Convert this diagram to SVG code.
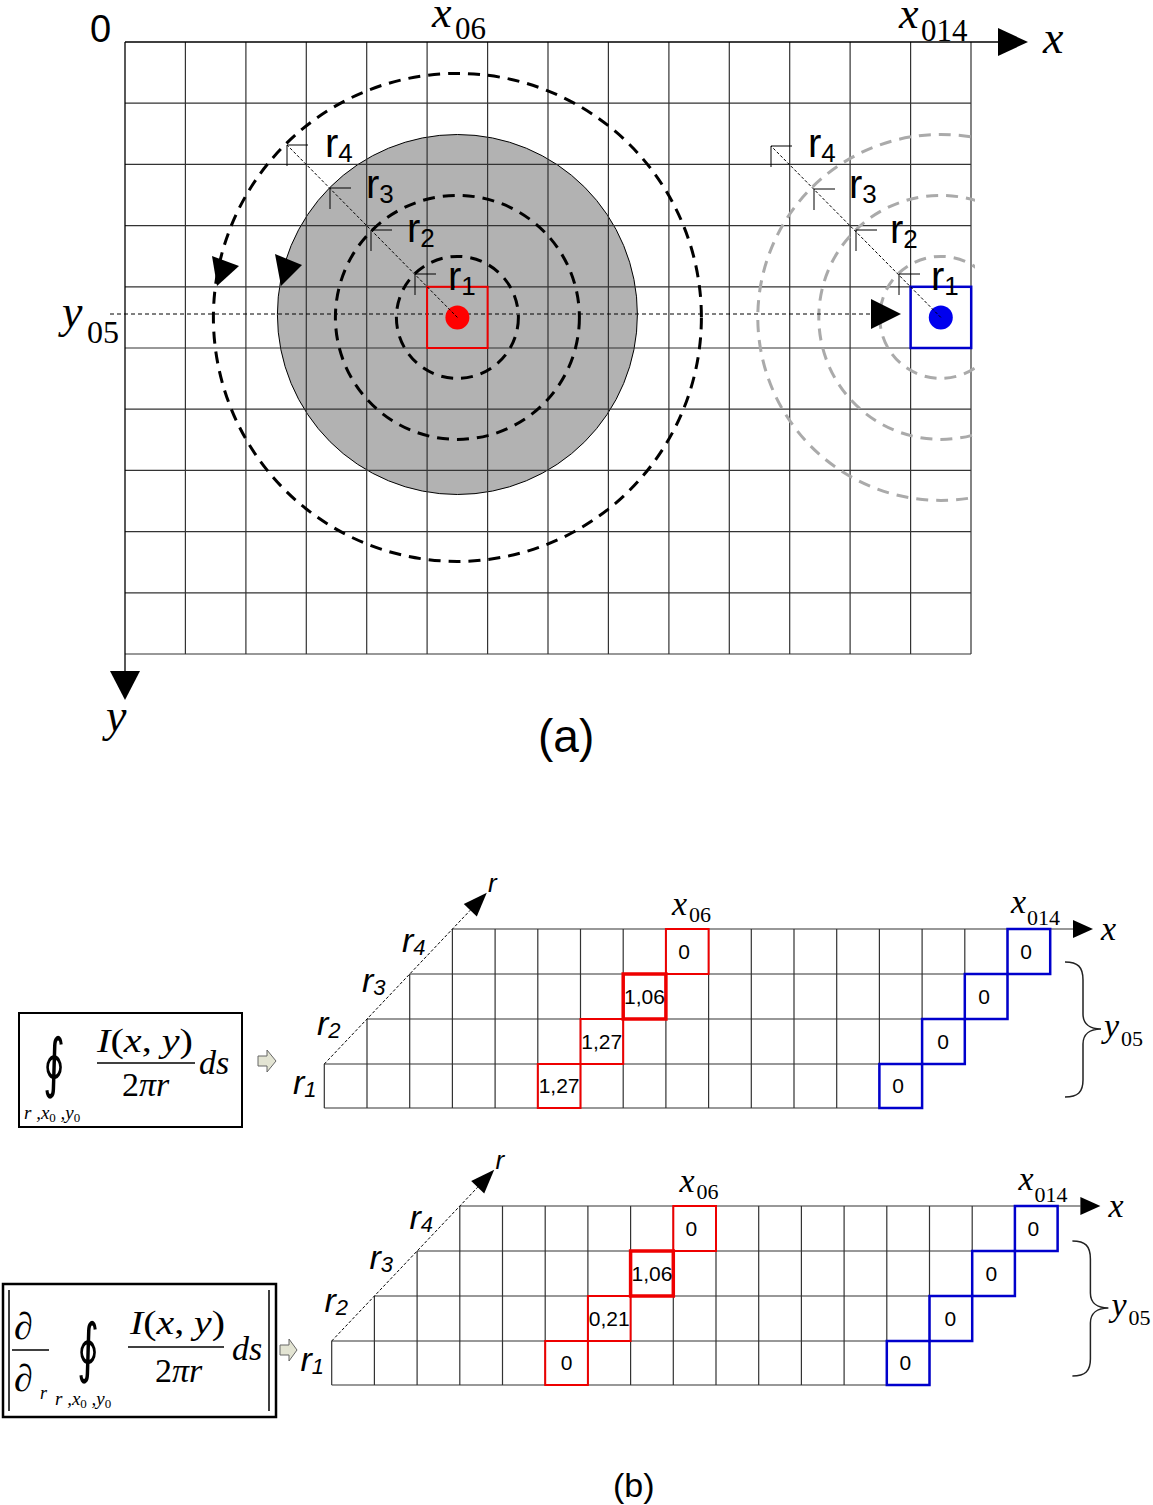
<svg xmlns="http://www.w3.org/2000/svg" width="1153" height="1505" viewBox="0 0 1153 1505">
<style>
.g{stroke:#333;stroke-width:1.2;fill:none}
.ax{stroke:#000;stroke-width:1.3;fill:none}
.dk{stroke:#000;stroke-width:3;stroke-dasharray:12 8;fill:none}
.gr{stroke:#aaa;stroke-width:3;stroke-dasharray:12 8;fill:none}
.dot{stroke:#000;stroke-width:1;stroke-dasharray:3 2;fill:none}
.mk{stroke:#000;stroke-width:1;fill:none}
.sans{font-family:"Liberation Sans",Arial,sans-serif}
.serif{font-family:"Liberation Serif","Times New Roman",serif}
.it{font-style:italic}
.red{stroke:#e00;stroke-width:2;fill:none}
.redt{stroke:#e00;stroke-width:3.5;fill:none}
.blue{stroke:#00c;stroke-width:2.5;fill:none}
.val{font-family:"Liberation Sans",Arial,sans-serif;font-size:21px;text-anchor:middle}
.brace{stroke:#222;stroke-width:1.5;fill:none}
.frame{stroke:#000;stroke-width:2;fill:none}
.barr{fill:#e3e4d3;stroke:#666;stroke-width:1}
.oint{font-family:"DejaVu Serif",serif;font-size:50px}
</style>
<defs>
<clipPath id="clipR"><rect x="600" y="0" width="375" height="700"/></clipPath>
</defs>
<rect width="1153" height="1505" fill="#fff"/>

<!-- ===== Part (a) ===== -->
<g id="a-circle-gray">
<circle cx="457.4" cy="314.5" r="180" fill="#b2b2b2" stroke="#000" stroke-width="1"/>
</g>
<g id="a-grid">
<path class="g" d="M185.4,42V654 M245.9,42V654 M306.3,42V654 M366.7,42V654 M427.1,42V654 M487.6,42V654 M548,42V654 M608.4,42V654 M668.9,42V654 M729.3,42V654 M789.7,42V654 M850.1,42V654 M910.6,42V654 M971,42V654 M125,103.2H971 M125,164.4H971 M125,225.6H971 M125,286.8H971 M125,348H971 M125,409.2H971 M125,470.4H971 M125,531.6H971 M125,592.8H971 M125,654H971"/>
</g>
<g id="a-axes">
<path class="ax" d="M125,42H1000 M125,42V672"/>
<polygon points="998,28 1028,42 998,56" fill="#000"/>
<polygon points="110,671 140,671 125,700" fill="#000"/>
<text class="sans" x="90" y="42" font-size="38">0</text>
<text class="serif" font-size="44"><tspan class="it" x="432" y="27">x</tspan><tspan x="455" y="39" font-size="31">06</tspan></text>
<text class="serif" font-size="44"><tspan class="it" x="899" y="28">x</tspan><tspan x="921" y="41" font-size="31">014</tspan></text>
<text class="serif it" x="1043" y="53" font-size="46">x</text>
<text class="serif" font-size="46"><tspan class="it" x="62" y="327">y</tspan><tspan x="87" y="343" font-size="32">05</tspan></text>
<text class="serif it" x="106" y="731" font-size="46">y</text>
<text class="sans" x="538" y="752" font-size="46">(a)</text>
</g>
<g id="a-circles-red">
<circle class="dk" cx="457.4" cy="317.4" r="61"/>
<circle class="dk" cx="457.4" cy="317.4" r="122"/>
<circle class="dk" cx="457.4" cy="317.4" r="244"/>
<polygon points="212,256 239,266 217,286" fill="#000"/>
<polygon points="275,254 302,265 281,286" fill="#000"/>
</g>
<g id="a-circles-blue" clip-path="url(#clipR)">
<circle class="gr" cx="940.8" cy="317.4" r="61"/>
<circle class="gr" cx="940.8" cy="317.4" r="122"/>
<circle class="gr" cx="940.8" cy="317.4" r="183"/>
</g>
<g id="a-scanline">
<path d="M110,314H872" stroke="#000" stroke-width="1" stroke-dasharray="4 3" fill="none"/>
<polygon points="871,299 901,314 871,329" fill="#000"/>
</g>
<g id="a-red-pixel">
<rect class="red" x="427.1" y="286.8" width="60.5" height="61.2" stroke-width="2.5"/>
<circle cx="457.4" cy="317.4" r="12" fill="#f00"/>
</g>
<g id="a-blue-pixel">
<rect class="blue" x="910.6" y="286.8" width="60.6" height="61.2" stroke-width="3"/>
<circle cx="940.8" cy="317.4" r="12" fill="#00e"/>
</g>
<g id="a-radii-left">
<path class="dot" d="M457.4,317.4L287,145"/>
<path class="mk" d="M308,145H287V166 M351,188H330V209 M392,230H371V251 M436,274H415V295"/>
<text class="sans" font-size="40"><tspan x="325" y="157">r</tspan><tspan font-size="26" dy="5">4</tspan></text>
<text class="sans" font-size="40"><tspan x="366" y="198">r</tspan><tspan font-size="26" dy="5">3</tspan></text>
<text class="sans" font-size="40"><tspan x="407" y="242">r</tspan><tspan font-size="26" dy="5">2</tspan></text>
<text class="sans" font-size="40"><tspan x="448" y="290">r</tspan><tspan font-size="26" dy="5">1</tspan></text>
</g>
<g id="a-radii-right">
<path class="dot" d="M940.8,317.4L771,146"/>
<path class="mk" d="M792,146H771V167 M835,189H814V210 M877,230H856V251 M920,274H899V295"/>
<text class="sans" font-size="40"><tspan x="808" y="157">r</tspan><tspan font-size="26" dy="5">4</tspan></text>
<text class="sans" font-size="40"><tspan x="849" y="198">r</tspan><tspan font-size="26" dy="5">3</tspan></text>
<text class="sans" font-size="40"><tspan x="890" y="243">r</tspan><tspan font-size="26" dy="5">2</tspan></text>
<text class="sans" font-size="40"><tspan x="931" y="290">r</tspan><tspan font-size="26" dy="5">1</tspan></text>
</g>

<!-- ===== Part (b) upper ===== -->
<g id="b-table-1">
<path class="g" d="M452.4,929H1073 M409.7,974H1050.2 M367,1019H1007.5 M324.3,1064H964.8 M324.3,1108H922.1 M324.3,1064V1108 M367,1019V1108 M409.7,974V1108 M452.4,929V1108 M495.1,929V1108 M537.8,929V1108 M580.5,929V1108 M623.2,929V1108 M665.9,929V1108 M708.6,929V1108 M751.3,929V1108 M794,929V1108 M836.7,929V1108 M879.4,929V1108 M922.1,929V1108 M964.8,929V1064 M1007.5,929V1019 M1050.2,929V974"/>
<polygon points="1073,920 1093,929 1073,938" fill="#000"/>
<path class="dot" d="M324.3,1064L470.3,910.2" stroke-dasharray="2 2"/>
<polygon points="486.8,892.8 476.8,916.4 463.8,904" fill="#000"/>
<text class="sans it" x="488" y="892" font-size="26">r</text>
<text class="serif" font-size="34"><tspan class="it" x="672" y="915">x</tspan><tspan x="689" y="922" font-size="22">06</tspan></text>
<text class="serif" font-size="34"><tspan class="it" x="1011" y="913">x</tspan><tspan x="1027" y="925" font-size="22">014</tspan></text>
<text class="serif it" x="1101" y="940" font-size="34">x</text>
<text class="sans it" font-size="34"><tspan x="402" y="952">r</tspan><tspan font-size="22" dy="3">4</tspan></text>
<text class="sans it" font-size="34"><tspan x="362" y="992">r</tspan><tspan font-size="22" dy="3">3</tspan></text>
<text class="sans it" font-size="34"><tspan x="317" y="1035">r</tspan><tspan font-size="22" dy="3">2</tspan></text>
<text class="sans it" font-size="34"><tspan x="293" y="1094">r</tspan><tspan font-size="22" dy="3">1</tspan></text>
<path class="brace" d="M1065,962C1078,962 1083,967 1083,980L1083,1014C1083,1024 1090,1029 1101,1029C1090,1029 1083,1034 1083,1044L1083,1080C1083,1092 1078,1097 1065,1097"/>
<text class="serif" font-size="34"><tspan class="it" x="1104" y="1037">y</tspan><tspan x="1121" y="1046" font-size="22">05</tspan></text>
<rect class="red" x="665.9" y="929" width="42.7" height="45"/>
<rect class="redt" x="623.2" y="974" width="42.7" height="45"/>
<rect class="red" x="580.5" y="1019" width="42.7" height="45"/>
<rect class="red" x="537.8" y="1064" width="42.7" height="44"/>
<rect class="blue" x="1007.5" y="929" width="42.7" height="45"/>
<rect class="blue" x="964.8" y="974" width="42.7" height="45"/>
<rect class="blue" x="922.1" y="1019" width="42.7" height="45"/>
<rect class="blue" x="879.4" y="1064" width="42.7" height="44"/>
<text class="val" x="684" y="959">0</text>
<text class="val" x="644.5" y="1004">1,06</text>
<text class="val" x="601.8" y="1049">1,27</text>
<text class="val" x="559.1" y="1093">1,27</text>
<text class="val" x="1026" y="959">0</text>
<text class="val" x="984" y="1004">0</text>
<text class="val" x="943" y="1049">0</text>
<text class="val" x="898" y="1093">0</text>
</g>

<g id="b-formula-1">
<rect class="frame" x="19" y="1013" width="223" height="114"/>
<text class="oint" transform="translate(43,1085) scale(0.85,1.3)">∮</text>
<text class="serif it" font-size="19" x="24" y="1119">r ,x<tspan font-size="13" dy="3" font-style="normal">0</tspan><tspan dy="-3"> ,y</tspan><tspan font-size="13" dy="3" font-style="normal">0</tspan></text>
<text class="serif" font-size="34" x="97" y="1052" textLength="96" lengthAdjust="spacingAndGlyphs"><tspan class="it">I</tspan>(<tspan class="it">x</tspan>, <tspan class="it">y</tspan>)</text>
<path d="M97,1063H195" stroke="#000" stroke-width="1.5"/>
<text class="serif" font-size="34" x="122" y="1096">2<tspan class="it">πr</tspan></text>
<text class="serif it" font-size="34" x="199" y="1074">ds</text>
</g>
<g id="b-arrow-1">
<polygon class="barr" points="258,1056 267,1056 267,1050 276,1061 267,1072 267,1066 258,1066"/>
</g>

<!-- ===== Part (b) lower ===== -->
<g id="b-table-2" transform="translate(7.4,277)">
<path class="g" d="M452.4,929H1073 M409.7,974H1050.2 M367,1019H1007.5 M324.3,1064H964.8 M324.3,1108H922.1 M324.3,1064V1108 M367,1019V1108 M409.7,974V1108 M452.4,929V1108 M495.1,929V1108 M537.8,929V1108 M580.5,929V1108 M623.2,929V1108 M665.9,929V1108 M708.6,929V1108 M751.3,929V1108 M794,929V1108 M836.7,929V1108 M879.4,929V1108 M922.1,929V1108 M964.8,929V1064 M1007.5,929V1019 M1050.2,929V974"/>
<polygon points="1073,920 1093,929 1073,938" fill="#000"/>
<path class="dot" d="M324.3,1064L470.3,910.2" stroke-dasharray="2 2"/>
<polygon points="486.8,892.8 476.8,916.4 463.8,904" fill="#000"/>
<text class="sans it" x="488" y="892" font-size="26">r</text>
<text class="serif" font-size="34"><tspan class="it" x="672" y="915">x</tspan><tspan x="689" y="922" font-size="22">06</tspan></text>
<text class="serif" font-size="34"><tspan class="it" x="1011" y="913">x</tspan><tspan x="1027" y="925" font-size="22">014</tspan></text>
<text class="serif it" x="1101" y="940" font-size="34">x</text>
<text class="sans it" font-size="34"><tspan x="402" y="952">r</tspan><tspan font-size="22" dy="3">4</tspan></text>
<text class="sans it" font-size="34"><tspan x="362" y="992">r</tspan><tspan font-size="22" dy="3">3</tspan></text>
<text class="sans it" font-size="34"><tspan x="317" y="1035">r</tspan><tspan font-size="22" dy="3">2</tspan></text>
<text class="sans it" font-size="34"><tspan x="293" y="1094">r</tspan><tspan font-size="22" dy="3">1</tspan></text>
<path class="brace" d="M1065,964C1078,964 1083,969 1083,982L1083,1016C1083,1026 1090,1031 1101,1031C1090,1031 1083,1036 1083,1046L1083,1082C1083,1094 1078,1099 1065,1099"/>
<text class="serif" font-size="34"><tspan class="it" x="1104" y="1039">y</tspan><tspan x="1121" y="1048" font-size="22">05</tspan></text>
<rect class="red" x="665.9" y="929" width="42.7" height="45"/>
<rect class="redt" x="623.2" y="974" width="42.7" height="45"/>
<rect class="red" x="580.5" y="1019" width="42.7" height="45"/>
<rect class="red" x="537.8" y="1064" width="42.7" height="44"/>
<rect class="blue" x="1007.5" y="929" width="42.7" height="45"/>
<rect class="blue" x="964.8" y="974" width="42.7" height="45"/>
<rect class="blue" x="922.1" y="1019" width="42.7" height="45"/>
<rect class="blue" x="879.4" y="1064" width="42.7" height="44"/>
<text class="val" x="684" y="959">0</text>
<text class="val" x="644.5" y="1004">1,06</text>
<text class="val" x="601.8" y="1049">0,21</text>
<text class="val" x="559.1" y="1093">0</text>
<text class="val" x="1026" y="959">0</text>
<text class="val" x="984" y="1004">0</text>
<text class="val" x="943" y="1049">0</text>
<text class="val" x="898" y="1093">0</text>
</g>

<g id="b-formula-2">
<rect x="3" y="1284" width="273" height="133" stroke="#000" stroke-width="2.5" fill="none"/>
<path d="M9,1290V1411 M269,1290V1411" stroke="#000" stroke-width="1.5"/>
<text class="serif" font-size="38" x="14" y="1339">∂</text>
<path d="M12,1350H49" stroke="#000" stroke-width="1.5"/>
<text class="serif" font-size="38" x="14" y="1391">∂</text>
<text class="serif it" font-size="18" x="40" y="1399">r</text>
<text class="oint" transform="translate(77,1370) scale(0.85,1.3)">∮</text>
<text class="serif it" font-size="19" x="55" y="1405">r ,x<tspan font-size="13" dy="3" font-style="normal">0</tspan><tspan dy="-3"> ,y</tspan><tspan font-size="13" dy="3" font-style="normal">0</tspan></text>
<text class="serif" font-size="34" x="130" y="1334" textLength="95" lengthAdjust="spacingAndGlyphs"><tspan class="it">I</tspan>(<tspan class="it">x</tspan>, <tspan class="it">y</tspan>)</text>
<path d="M128,1347H224" stroke="#000" stroke-width="1.5"/>
<text class="serif" font-size="34" x="155" y="1382">2<tspan class="it">πr</tspan></text>
<text class="serif it" font-size="34" x="232" y="1360">ds</text>
</g>
<g id="b-arrow-2">
<polygon class="barr" points="280,1345 289,1345 289,1339 297,1350 289,1361 289,1355 280,1355"/>
</g>
<text class="sans" x="613" y="1497" font-size="34">(b)</text>
</svg>
